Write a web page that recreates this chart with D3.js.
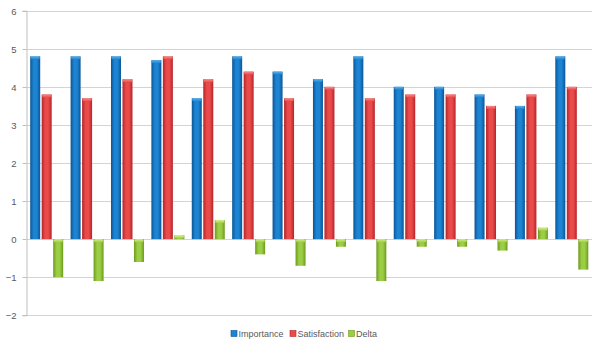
<!DOCTYPE html>
<html>
<head>
<meta charset="utf-8">
<script src="https://cdn.jsdelivr.net/npm/d3@7"></script>
<style>
  html, body { margin: 0; padding: 0; background: #fff; }
  svg { display: block; }
  text { font-family: "Liberation Sans", Arial, sans-serif; fill: #595959; }
</style>
</head>
<body>
<svg id="chart" width="603" height="349"></svg>
<script>
// Survey items (unlabelled on the axis)
const categories = d3.range(1, 15).map(String);
const seriesNames = ["Importance", "Satisfaction", "Delta"];
const importance   = [4.8, 4.8, 4.8, 4.7, 3.7, 4.8, 4.4, 4.2, 4.8, 4.0, 4.0, 3.8, 3.5, 4.8];
const satisfaction = [3.8, 3.7, 4.2, 4.8, 4.2, 4.4, 3.7, 4.0, 3.7, 3.8, 3.8, 3.5, 3.8, 4.0];
const delta        = [-1.0, -1.1, -0.6, 0.1, 0.5, -0.4, -0.7, -0.2, -1.1, -0.2, -0.2, -0.3, 0.3, -0.8];
const yTicks = [-2, -1, 0, 1, 2, 3, 4, 5, 6];

const seriesValues = [importance, satisfaction, delta];
const palette = [
  { edge: "#0b5596", mid: "#1c84d2", cap: "#5ab0ea" },
  { edge: "#b4252a", mid: "#ea4a4a", cap: "#f58c8c" },
  { edge: "#6d9a1e", mid: "#9cce45", cap: "#d8ef8a" }
];

const svg = d3.select("#chart");
const margin = { left: 26.5, right: 11, top: 10.7, bottom: 34 };
const W = 603, H = 349;
const plotBottom = 315.3;

const x = d3.scaleBand().domain(categories).range([margin.left, W - margin.right]).paddingInner(0).paddingOuter(0);
const y = d3.scaleLinear().domain([-2, 6]).range([plotBottom, margin.top]);

// Gradients: horizontal shading for a rounded look
const defs = svg.append("defs");
palette.forEach((p, i) => {
  const g = defs.append("linearGradient").attr("id", "grad" + i)
    .attr("x1", "0").attr("x2", "1").attr("y1", "0").attr("y2", "0");
  g.append("stop").attr("offset", "0").attr("stop-color", p.edge);
  g.append("stop").attr("offset", "0.35").attr("stop-color", p.mid);
  g.append("stop").attr("offset", "0.65").attr("stop-color", p.mid);
  g.append("stop").attr("offset", "1").attr("stop-color", p.edge);
  const c = defs.append("linearGradient").attr("id", "cap" + i)
    .attr("x1", "0").attr("x2", "0").attr("y1", "0").attr("y2", "1");
  c.append("stop").attr("offset", "0").attr("stop-color", p.cap);
  c.append("stop").attr("offset", "1").attr("stop-color", p.mid);
});

// Gridlines
svg.append("g").selectAll("line").data(yTicks).join("line")
  .attr("x1", margin.left).attr("x2", W - margin.right)
  .attr("y1", d => Math.round(y(d)) + 0.5).attr("y2", d => Math.round(y(d)) + 0.5)
  .attr("stroke", "#d4d4d4").attr("stroke-width", 1);

// Y axis
const yAxis = svg.append("g").attr("transform", `translate(${margin.left},0)`)
  .call(d3.axisLeft(y).tickValues(yTicks).tickSize(4).tickPadding(6).tickFormat(d3.format("d")));
yAxis.select(".domain").attr("stroke", "#bfbfbf");
yAxis.selectAll(".tick line").attr("stroke", "#bfbfbf");
yAxis.selectAll(".tick text").attr("font-size", 9.5).attr("fill", "#595959")
  .attr("font-family", "Liberation Sans, Arial, sans-serif");
yAxis.selectAll(".tick").attr("transform", d => `translate(0,${Math.round(y(d)) + 0.5})`);

// Bars
const bw = x.bandwidth();
const inner = d3.scaleBand().domain(seriesNames).range([3.7, bw - 3.7]).paddingInner(0.13);
const bars = [];
categories.forEach((c, ci) => {
  seriesNames.forEach((s, si) => {
    bars.push({ cat: c, s, si, v: seriesValues[si][ci] });
  });
});

const g = svg.append("g");
const barG = g.selectAll("g.bar").data(bars).join("g").attr("class", "bar");
barG.append("rect")
  .attr("x", d => x(d.cat) + inner(d.s))
  .attr("width", inner.bandwidth())
  .attr("y", d => y(Math.max(0, d.v)))
  .attr("height", d => Math.abs(y(d.v) - y(0)))
  .attr("fill", d => `url(#grad${d.si})`);
// Bevelled top cap
barG.append("rect")
  .attr("x", d => x(d.cat) + inner(d.s) + 0.5)
  .attr("width", inner.bandwidth() - 1)
  .attr("y", d => y(Math.max(0, d.v)))
  .attr("height", d => Math.min(3, Math.abs(y(d.v) - y(0))))
  .attr("rx", 1)
  .attr("fill", d => `url(#cap${d.si})`);

// Legend
const legendItems = [
  { name: "Importance", x: 231 },
  { name: "Satisfaction", x: 290 },
  { name: "Delta", x: 348.5 }
];
const lg = svg.append("g");
legendItems.forEach((it, i) => {
  lg.append("rect").attr("x", it.x).attr("y", 330.5).attr("width", 6).attr("height", 6)
    .attr("fill", palette[i].mid).attr("stroke", palette[i].edge).attr("stroke-width", 0.6);
  lg.append("text").attr("x", it.x + 7.5).attr("y", 337.3)
    .attr("font-size", 9).attr("fill", "#595959").text(it.name);
});
</script>
</body>
</html>
